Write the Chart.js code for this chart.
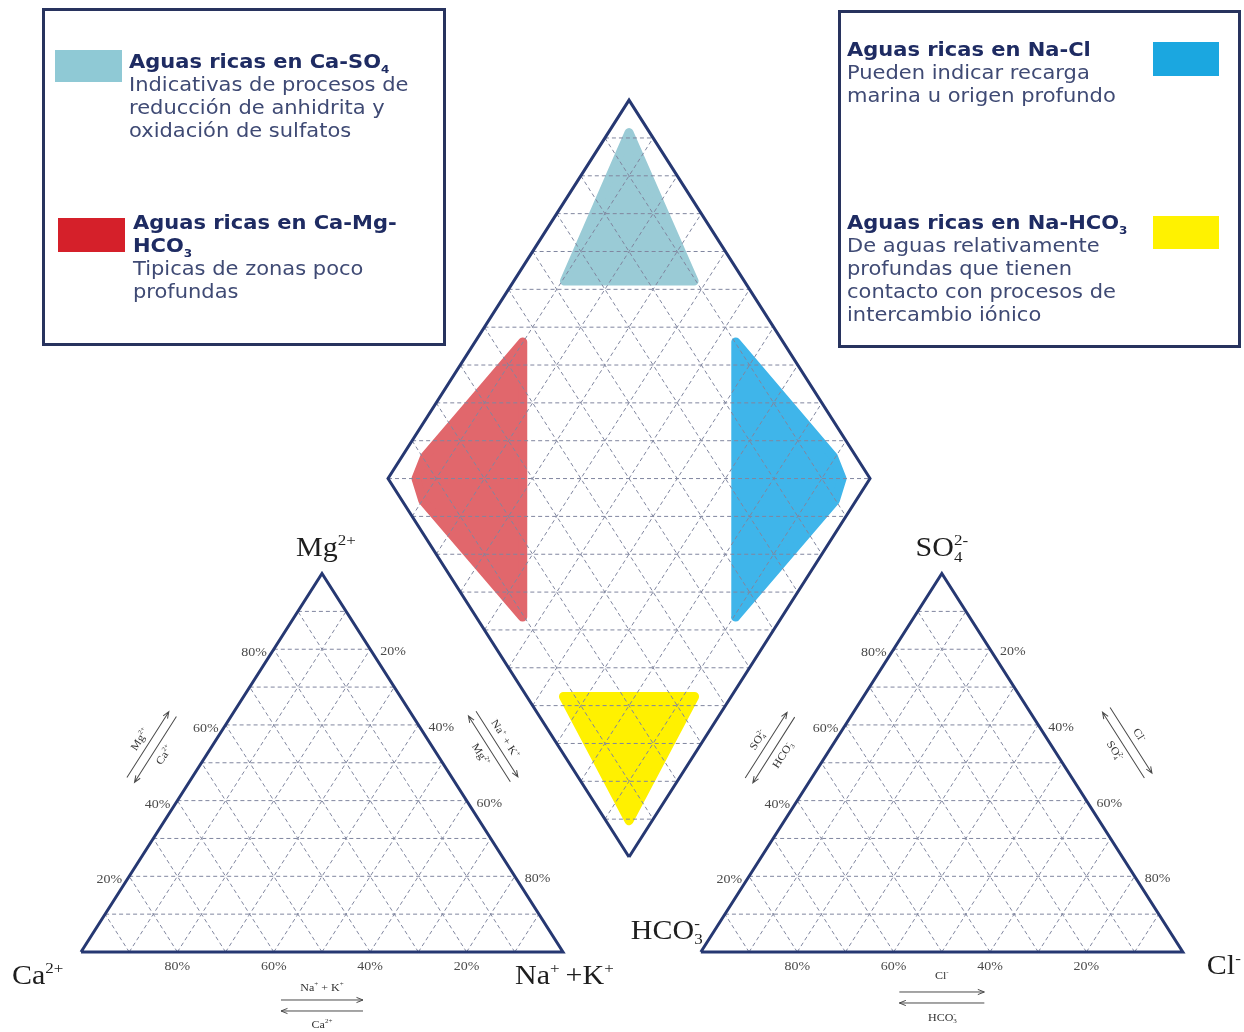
<!DOCTYPE html>
<html lang="es">
<head>
<meta charset="utf-8">
<title>Diagrama de Piper</title>
<script src="https://cdn.jsdelivr.net/npm/chart.js@4.4.1/dist/chart.umd.min.js"></script>
<style>
  html, body { margin: 0; padding: 0; background: #fff; }
  #wrap { position: relative; width: 1244px; height: 1032px; overflow: hidden; }
  #piper { position: absolute; left: 0; top: 0; }
  .box { position: absolute; border: 3px solid #28335e; box-sizing: border-box; }
  .sw { position: absolute; }
  .ln { position: absolute; font-family: "DejaVu Sans", Verdana, sans-serif; font-size: 21px;
        line-height: 23px; height: 23px; color: #3f4a74; white-space: nowrap;
        transform: scaleY(0.9); transform-origin: 0 50%; }
  .ln.t { font-weight: bold; color: #1e2b62; }
  .ln sub { font-size: 12px; line-height: 0; vertical-align: -5px; }
</style>
</head>
<body>
<div id="wrap">
  <canvas id="piper" width="1244" height="1032"></canvas>

  <div class="box" style="left:42px;top:8px;width:404px;height:338px"></div>
  <div class="sw" style="left:55px;top:50px;width:67px;height:32px;background:#8fc9d5"></div>
  <div class="ln t" style="left:129px;top:50.5px">Aguas ricas en Ca-SO<sub>4</sub></div>
  <div class="ln" style="left:129px;top:73.5px">Indicativas de procesos de</div>
  <div class="ln" style="left:129px;top:96.5px">reducción de anhidrita y</div>
  <div class="ln" style="left:129px;top:119.5px">oxidación de sulfatos</div>
  <div class="sw" style="left:58px;top:218px;width:67px;height:34px;background:#d5202a"></div>
  <div class="ln t" style="left:133px;top:211.5px">Aguas ricas en Ca-Mg-</div>
  <div class="ln t" style="left:133px;top:234.5px">HCO<sub>3</sub></div>
  <div class="ln" style="left:133px;top:257.5px">Tipicas de zonas poco</div>
  <div class="ln" style="left:133px;top:280.5px">profundas</div>

  <div class="box" style="left:838px;top:10px;width:403px;height:338px"></div>
  <div class="sw" style="left:1153px;top:42px;width:66px;height:34px;background:#1ba7e0"></div>
  <div class="ln t" style="left:847px;top:38.5px">Aguas ricas en Na-Cl</div>
  <div class="ln" style="left:847px;top:61.5px">Pueden indicar recarga</div>
  <div class="ln" style="left:847px;top:84.5px">marina u origen profundo</div>
  <div class="sw" style="left:1153px;top:216px;width:66px;height:33px;background:#fff200"></div>
  <div class="ln t" style="left:847px;top:211.5px">Aguas ricas en Na-HCO<sub>3</sub></div>
  <div class="ln" style="left:847px;top:234.5px">De aguas relativamente</div>
  <div class="ln" style="left:847px;top:257.5px">profundas que tienen</div>
  <div class="ln" style="left:847px;top:280.5px">contacto con procesos de</div>
  <div class="ln" style="left:847px;top:303.5px">intercambio iónico</div>
</div>

<script>
// ---------- values ----------
const pctSteps  = [20, 40, 60, 80];
const pctLabels = ['20%', '40%', '60%', '80%'];
const gridSteps = [10, 20, 30, 40, 50, 60, 70, 80, 90];

// Hydrochemical facies in the diamond, outline points given as
// Na+K (% of cations) and SO4+Cl (% of anions)
const caSO4Cat    = [4.3, 10.5, 37.4];
const caSO4Ani    = [95.7, 62.7, 89.6];
const caMgHCO3Cat = [9.9, 4.7, 5.8, 10.1, 46.2];
const caMgHCO3Ani = [46.0, 10.5, 5.8, 4.3, 9.6];
const naClCat     = [54.1, 89.5, 94.2, 95.7, 90.4];
const naClAni     = [90.2, 95.3, 94.2, 89.9, 53.8];
const naHCO3Cat   = [65.2, 92.4, 95.2];
const naHCO3Ani   = [7.6, 34.8, 4.8];

// ---------- layout of the three plotting fields (data units, side = 100) ----------
const H = 86.6;              // height of a triangle of side 100
const CAT_X0 = 0;            // cation triangle, Ca2+ corner
const ANI_X0 = 128.6;        // anion triangle, HCO3- corner
const DIA_X = 113.7, DIA_Y = 21.74;  // lower corner of the diamond

const SERIF = '"Liberation Serif", "Times New Roman", serif';
const INK = '#263872';
const GRID = '#80869f';
const BREAK = { x: null, y: null };

// point in a ternary triangle: top and right components in %
function triPt(x0, top, right) {
  return { x: x0 + right + top / 2, y: top * H / 100 };
}
// point in the diamond from cation Na+K % and anion SO4+Cl %
function diaPt(cat, ani) {
  return { x: DIA_X - 50 + (cat + ani) / 2, y: DIA_Y + H + H * (ani - cat) / 100 };
}

function triGrid(x0) {
  const pts = [];
  for (const g of gridSteps) {
    pts.push(triPt(x0, g, 0), triPt(x0, g, 100 - g), BREAK);
    pts.push(triPt(x0, 0, g), triPt(x0, 100 - g, g), BREAK);
    pts.push(triPt(x0, 0, 100 - g), triPt(x0, 100 - g, 0), BREAK);
  }
  return pts;
}
function diaGrid() {
  const pts = [];
  for (const g of gridSteps) {
    pts.push(diaPt(g, 0), diaPt(g, 100), BREAK);
    pts.push(diaPt(0, g), diaPt(100, g), BREAK);
  }
  const levels = [0].concat(gridSteps, gridSteps.map(g => -g));
  for (const c of levels) {
    if (c >= 0) pts.push(diaPt(0, c), diaPt(100 - c, 100), BREAK);
    else pts.push(diaPt(-c, 0), diaPt(100, 100 + c), BREAK);
  }
  return pts;
}
function field(cat, ani) {
  const pts = cat.map((c, i) => diaPt(c, ani[i]));
  pts.push(pts[0]);
  return pts;
}
function triOutline(x0) {
  return [triPt(x0, 0, 0), triPt(x0, 0, 100), triPt(x0, 100, 0), triPt(x0, 0, 0)];
}
function diaOutline() {
  return [diaPt(100, 0), diaPt(100, 100), diaPt(0, 100), diaPt(0, 0), diaPt(100, 0)];
}

function region(label, cat, ani, color) {
  return {
    label, data: field(cat, ani), showLine: true, pointRadius: 0,
    backgroundColor: color, borderColor: color, borderWidth: 9,
    borderJoinStyle: 'round', borderCapStyle: 'round', fill: 'shape', order: 3
  };
}
function gridSet(label, data) {
  return { label, data, showLine: true, pointRadius: 0, borderColor: GRID,
           borderWidth: 1, borderDash: [4, 3], fill: false, spanGaps: false, order: 2 };
}
function outlineSet(label, data) {
  return { label, data, showLine: true, pointRadius: 0, borderColor: INK,
           borderWidth: 3, borderJoinStyle: 'miter', fill: false, order: 1 };
}

// ---------- text helpers ----------
function rich(ctx, parts, x, y, o) {
  const size = o.size, sm = Math.round(size * 0.58);
  const font = m => `${m ? sm : size}px ${SERIF}`;
  ctx.save();
  let w = 0;
  for (const [t, m] of parts) { ctx.font = font(m); if (m !== 'sub0') w += ctx.measureText(t).width; }
  ctx.translate(x, y);
  if (o.angle) ctx.rotate(o.angle);
  ctx.scale(1, 0.9);
  let cx = o.align === 'right' ? -w : o.align === 'left' ? 0 : -w / 2;
  ctx.fillStyle = o.color || '#222';
  ctx.textBaseline = 'alphabetic';
  const base = size * 0.33;
  for (const [t, m] of parts) {
    ctx.font = font(m);
    let dy = base;
    if (m === 'sup') dy -= size * 0.42;
    if (m === 'sub' || m === 'sub0') dy += size * 0.2;
    ctx.fillText(t, cx, dy);
    if (m !== 'sub0') cx += ctx.measureText(t).width;
  }
  ctx.restore();
}
function arrowLine(ctx, x1, y1, x2, y2) {
  const a = Math.atan2(y2 - y1, x2 - x1), h = 7;
  ctx.beginPath();
  ctx.moveTo(x1, y1); ctx.lineTo(x2, y2);
  ctx.moveTo(x2 - h * Math.cos(a - 0.38), y2 - h * Math.sin(a - 0.38));
  ctx.lineTo(x2, y2);
  ctx.lineTo(x2 - h * Math.cos(a + 0.38), y2 - h * Math.sin(a + 0.38));
  ctx.stroke();
}
function note(ctx, c, ang, len, items) {
  ctx.save();
  ctx.translate(c[0], c[1]);
  ctx.rotate(ang);
  ctx.strokeStyle = '#4a4a4a';
  ctx.lineWidth = 1;
  for (const it of items) {
    if (it.dir) { const h = len / 2 * it.dir; arrowLine(ctx, -h, it.off, h, it.off); }
    else rich(ctx, it.parts, it.dx || 0, it.off, { size: 12, color: '#333' });
  }
  ctx.restore();
}
function edgeAnchor(p0, p1, t, d) {
  const dx = p1[0] - p0[0], dy = p1[1] - p0[1], L = Math.hypot(dx, dy);
  const ux = dx / L, uy = dy / L;
  return { c: [p0[0] + dx * t + uy * d, p0[1] + dy * t - ux * d], ang: Math.atan2(dy, dx) };
}

const MG  = [['Mg', ''], ['2+', 'sup']];
const CA  = [['Ca', ''], ['2+', 'sup']];
const NAK = [['Na', ''], ['+', 'sup'], [' + K', ''], ['+', 'sup']];
const SO4 = [['SO', ''], ['4', 'sub0'], ['2-', 'sup']];
const HCO3 = [['HCO', ''], ['3', 'sub0'], ['-', 'sup']];
const CL  = [['Cl', ''], ['-', 'sup']];

const piperText = {
  id: 'piperText',
  afterDraw(chart) {
    const { ctx, scales: { x, y } } = chart;
    const px = p => [x.getPixelForValue(p.x), y.getPixelForValue(p.y)];
    const tick = { size: 14, color: '#4a4a4a' };

    for (const x0 of [CAT_X0, ANI_X0]) {
      pctSteps.forEach((s, i) => {
        const l = px(triPt(x0, s, 0));
        rich(ctx, [[pctLabels[i], '']], l[0] - 7, l[1] + 3, { ...tick, align: 'right' });
        const r = px(triPt(x0, s, 100 - s));
        rich(ctx, [[pctLabels[3 - i], '']], r[0] + 10, r[1] + 2, { ...tick, align: 'left' });
        const b = px(triPt(x0, 0, s));
        rich(ctx, [[pctLabels[3 - i], '']], b[0], b[1] + 14, { ...tick, align: 'center' });
      });
    }

    // corner names
    const big = { size: 30, color: '#1e1e1e' };
    const A = px(triPt(CAT_X0, 0, 0)), B = px(triPt(CAT_X0, 0, 100)), C = px(triPt(CAT_X0, 100, 0));
    const D = px(triPt(ANI_X0, 0, 0)), E = px(triPt(ANI_X0, 0, 100)), F = px(triPt(ANI_X0, 100, 0));
    rich(ctx, MG, C[0] + 4, C[1] - 26, { ...big, align: 'center' });
    rich(ctx, CA, A[0] - 69, A[1] + 23, { ...big, align: 'left' });
    rich(ctx, [['Na', ''], ['+', 'sup'], ['\u2009+K', ''], ['+', 'sup']], B[0] - 48, B[1] + 23, { ...big, align: 'left' });
    rich(ctx, SO4, F[0], F[1] - 26, { ...big, align: 'center' });
    rich(ctx, HCO3, D[0] - 1, D[1] - 22, { ...big, align: 'right' });
    rich(ctx, CL, E[0] + 24, E[1] + 13, { ...big, align: 'left' });

    // direction notes along the sides
    let g = edgeAnchor(A, C, 0.47, 50);
    note(ctx, g.c, g.ang, 78, [
      { parts: MG, off: -15 }, { dir: 1, off: -5 }, { dir: -1, off: 4 }, { parts: CA, off: 14 }]);
    g = edgeAnchor(C, B, 0.53, 51);
    note(ctx, g.c, g.ang, 78, [
      { parts: NAK, off: -15 }, { dir: 1, off: -5 }, { dir: -1, off: 4 }, { parts: MG, off: 14 }]);
    g = edgeAnchor(D, F, 0.467, 51);
    note(ctx, g.c, g.ang, 78, [
      { parts: SO4, off: -15 }, { dir: 1, off: -5 }, { dir: -1, off: 4 }, { parts: HCO3, off: 14 }]);
    g = edgeAnchor(F, E, 0.54, 65);
    note(ctx, g.c, g.ang, 78, [
      { parts: CL, off: -15 }, { dir: 1, off: -5 }, { dir: -1, off: 4 }, { parts: SO4, off: 14 }]);

    note(ctx, [(A[0] + B[0]) / 2, A[1] + 53], 0, 82, [
      { parts: NAK, off: -18 }, { dir: 1, off: -5 }, { dir: -1, off: 6 }, { parts: CA, off: 19 }]);
    note(ctx, [(D[0] + E[0]) / 2, D[1] + 45], 0, 85, [
      { parts: CL, off: -22 }, { dir: 1, off: -5 }, { dir: -1, off: 6 }, { parts: HCO3, off: 20 }]);
  }
};

new Chart(document.getElementById('piper'), {
  type: 'scatter',
  data: {
    datasets: [
      outlineSet('Cationes', triOutline(CAT_X0)),
      outlineSet('Aniones', triOutline(ANI_X0)),
      outlineSet('Rombo', diaOutline()),
      gridSet('Retícula cationes', triGrid(CAT_X0)),
      gridSet('Retícula aniones', triGrid(ANI_X0)),
      gridSet('Retícula rombo', diaGrid()),
      region('Ca-SO4', caSO4Cat, caSO4Ani, '#9acbd6'),
      region('Ca-Mg-HCO3', caMgHCO3Cat, caMgHCO3Ani, '#e1676c'),
      region('Na-Cl', naClCat, naClAni, '#3fb5ea'),
      region('Na-HCO3', naHCO3Cat, naHCO3Ani, '#fff100')
    ]
  },
  options: {
    responsive: false,
    animation: false,
    layout: { padding: 0 },
    plugins: { legend: { display: false }, tooltip: { enabled: false } },
    scales: {
      x: { type: 'linear', min: -16.805, max: 241.29, display: false },
      y: { type: 'linear', min: -18.307, max: 217.85, display: false }
    }
  },
  plugins: [piperText]
});
</script>
</body>
</html>
